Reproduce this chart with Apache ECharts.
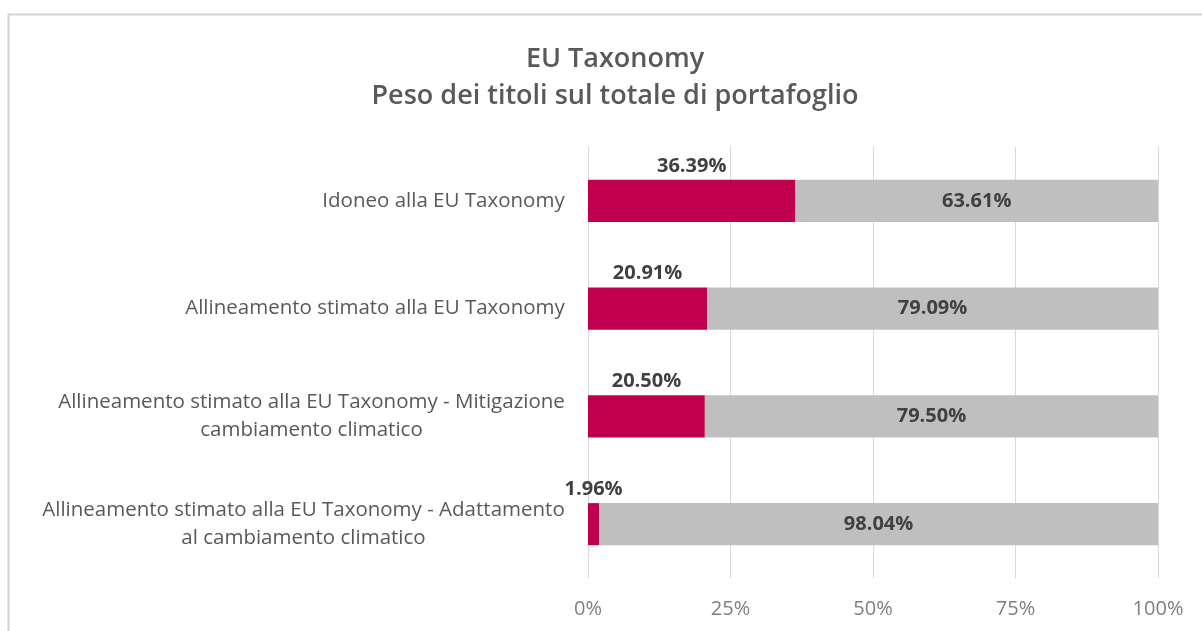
<!DOCTYPE html>
<html>
<head>
<meta charset="utf-8">
<script src="https://cdn.jsdelivr.net/npm/echarts@6/dist/echarts.min.js"></script>
<style>
html,body{margin:0;padding:0;background:#fff;}
#chart{width:1202px;height:631px;}
</style>
</head>
<body>
<div id="chart"></div>
<script>
const categories = [
  'Idoneo alla EU Taxonomy',
  'Allineamento stimato alla EU Taxonomy',
  'Allineamento stimato alla EU Taxonomy - Mitigazione\ncambiamento climatico',
  'Allineamento stimato alla EU Taxonomy - Adattamento\nal cambiamento climatico'
];
const alignedValues = [36.39, 20.91, 20.50, 1.96];
const otherValues = [63.61, 79.09, 79.50, 98.04];
const xTicks = [0, 25, 50, 75, 100];

const FONT = '"Open Sans", "Noto Sans", sans-serif';
const catFontSize = 20.5;

// measure widths for centered multi-line category labels
const cv = document.createElement('canvas').getContext('2d');
cv.font = catFontSize + 'px ' + FONT;
const rich = {};
categories.forEach((c, i) => {
  const w = Math.max(...c.split('\n').map(l => cv.measureText(l).width));
  rich['r' + i] = {width: Math.ceil(w) + 2, align: 'center', fontSize: catFontSize, color: '#595959', fontFamily: FONT, lineHeight: 28};
});

const chart = echarts.init(document.getElementById('chart'));
chart.setOption({
  backgroundColor: '#fff',
  animation: false,
  title: {
    text: 'EU Taxonomy\nPeso dei titoli sul totale di portafoglio',
    left: 610,
    textAlign: 'center',
    top: 36,
    textStyle: {fontFamily: FONT, fontSize: 27, fontWeight: 600, color: '#595959', lineHeight: 37}
  },
  graphic: [{
    type: 'rect',
    shape: {x: 8.5, y: 14.5, width: 1210, height: 640},
    style: {fill: 'none', stroke: '#d4d4d4', lineWidth: 2},
    silent: true
  }],
  grid: {left: 588, right: 44, top: 147, bottom: 53, containLabel: false},
  xAxis: {
    type: 'value',
    min: 0, max: 100, interval: 25,
    axisLine: {show: false},
    axisTick: {show: false},
    splitLine: {show: true, lineStyle: {color: '#d9d9d9', width: 1}},
    axisLabel: {
      margin: 21,
      fontFamily: FONT, fontSize: 20, color: '#7f7f7f',
      formatter: v => xTicks.includes(v) ? v + '%' : ''
    }
  },
  yAxis: {
    type: 'category',
    data: categories,
    inverse: true,
    axisLine: {show: true, lineStyle: {color: '#d9d9d9'}},
    axisTick: {show: false},
    axisLabel: {
      margin: 22,
      align: 'right',
      formatter: (v, idx) => v.split('\n').map(l => '{r' + idx + '|' + l + '}').join('\n'),
      rich: rich
    }
  },
  series: [
    {
      name: 'Allineato',
      type: 'bar',
      stack: 'tot',
      data: alignedValues,
      barCategoryGap: '61%',
      itemStyle: {color: '#C0004F'},
      label: {
        show: true, position: 'top', distance: 4,
        formatter: p => p.value.toFixed(2) + '%',
        fontFamily: FONT, fontSize: 20, fontWeight: 'bold', color: '#404040'
      }
    },
    {
      name: 'Altro',
      type: 'bar',
      stack: 'tot',
      data: otherValues,
      itemStyle: {color: '#BFBFBF'},
      label: {
        show: true, position: 'inside',
        formatter: p => p.value.toFixed(2) + '%',
        fontFamily: FONT, fontSize: 20, fontWeight: 'bold', color: '#404040'
      }
    }
  ]
});
</script>
</body>
</html>
